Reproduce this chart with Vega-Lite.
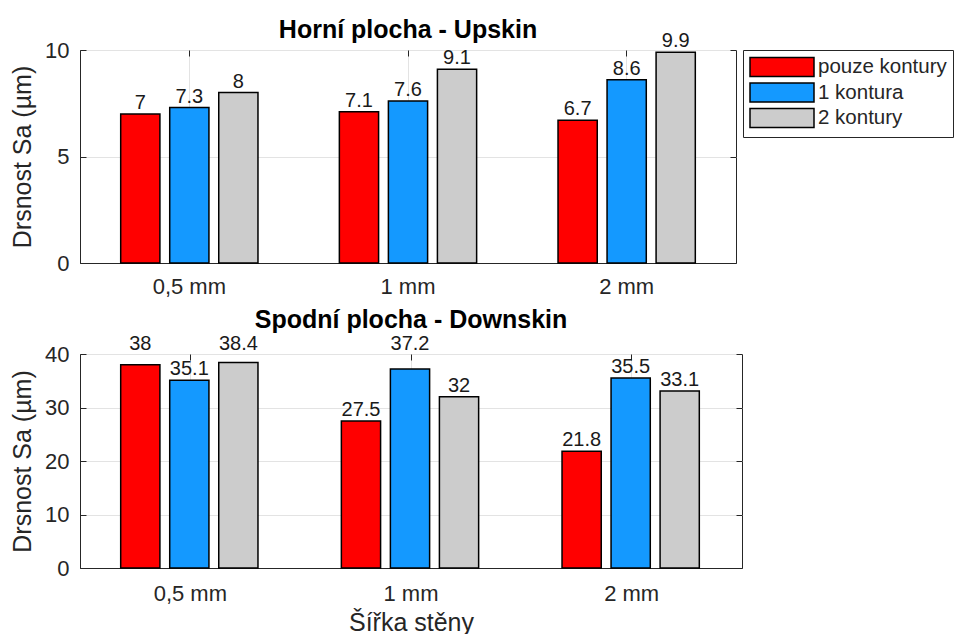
{
  "$schema": "https://vega.github.io/schema/vega-lite/v6.json",
  "background": "white",
  "padding": {"left": 10, "top": 17, "right": 0, "bottom": 0},
  "config": {
    "font": "Liberation Sans",
    "view": {"stroke": "#262626", "strokeWidth": 1},
    "axis": {
      "labelFont": "Liberation Sans", "labelFontSize": 22, "labelColor": "#262626",
      "titleFont": "Liberation Sans", "titleFontSize": 25, "titleFontWeight": "normal", "titleColor": "#262626",
      "gridColor": "#e3e3e3", "gridWidth": 1, "domainColor": "#262626", "tickColor": "#262626"
    },
    "title": {"font": "Liberation Sans", "fontSize": 25, "fontWeight": "bold", "color": "#000000"}
  },
  "datasets": {
    "up": [
      {"sirka": "0,5 mm", "serie": "pouze kontury", "sa": 7},
      {"sirka": "0,5 mm", "serie": "1 kontura", "sa": 7.3},
      {"sirka": "0,5 mm", "serie": "2 kontury", "sa": 8},
      {"sirka": "1 mm", "serie": "pouze kontury", "sa": 7.1},
      {"sirka": "1 mm", "serie": "1 kontura", "sa": 7.6},
      {"sirka": "1 mm", "serie": "2 kontury", "sa": 9.1},
      {"sirka": "2 mm", "serie": "pouze kontury", "sa": 6.7},
      {"sirka": "2 mm", "serie": "1 kontura", "sa": 8.6},
      {"sirka": "2 mm", "serie": "2 kontury", "sa": 9.9}
    ],
    "down": [
      {"sirka": "0,5 mm", "serie": "pouze kontury", "sa": 38},
      {"sirka": "0,5 mm", "serie": "1 kontura", "sa": 35.1},
      {"sirka": "0,5 mm", "serie": "2 kontury", "sa": 38.4},
      {"sirka": "1 mm", "serie": "pouze kontury", "sa": 27.5},
      {"sirka": "1 mm", "serie": "1 kontura", "sa": 37.2},
      {"sirka": "1 mm", "serie": "2 kontury", "sa": 32},
      {"sirka": "2 mm", "serie": "pouze kontury", "sa": 21.8},
      {"sirka": "2 mm", "serie": "1 kontura", "sa": 35.5},
      {"sirka": "2 mm", "serie": "2 kontury", "sa": 33.1}
    ]
  },
  "spacing": 9,
  "vconcat": [
    {
      "width": 656, "height": 213,
      "title": {"text": "Horní plocha - Upskin", "anchor": "middle", "frame": "group", "offset": -12},
      "data": {"name": "up"},
      "resolve": {"axis": {"x": "independent", "y": "independent"}},
      "layer": [
        {
          "mark": {"type": "bar", "stroke": "black", "strokeWidth": 1.5},
          "encoding": {
            "x": {"field": "sirka", "type": "nominal", "sort": ["0,5 mm", "1 mm", "2 mm"],
                  "scale": {"paddingInner": 0, "paddingOuter": 0},
                  "axis": {"title": null, "labelAngle": 0, "grid": true, "tickSize": -6, "labelPadding": 19}},
            "xOffset": {"field": "serie", "type": "nominal", "sort": ["pouze kontury", "1 kontura", "2 kontury"],
                        "scale": {"paddingInner": 0.2, "paddingOuter": 0.83}},
            "y": {"field": "sa", "type": "quantitative", "scale": {"domain": [0, 10], "nice": false},
                  "axis": {"title": "Drsnost Sa (µm)", "values": [0, 5, 10], "tickSize": -6, "labelPadding": 17, "titlePadding": 9}},
            "color": {"field": "serie", "type": "nominal",
                      "scale": {"domain": ["pouze kontury", "1 kontura", "2 kontury"], "range": ["#ff0000", "#1499ff", "#cccccc"]},
                      "legend": {"title": null, "orient": "right", "offset": 0,
                                 "symbolType": "M-1,-0.95H5.4V0.95H-1Z", "symbolSize": 400,
                                 "symbolStrokeColor": "black", "symbolStrokeWidth": 1.5, "symbolOpacity": 1,
                                 "labelFontSize": 20.5, "labelColor": "#262626", "labelOffset": 47,
                                 "strokeColor": "#262626", "fillColor": "white", "padding": 6, "rowPadding": -0.5}}
          }
        },
        {
          "mark": {"type": "text", "baseline": "alphabetic", "dy": -5, "fontSize": 20, "color": "#1a1a1a"},
          "encoding": {
            "x": {"field": "sirka", "type": "nominal", "sort": ["0,5 mm", "1 mm", "2 mm"],
                  "axis": {"orient": "top", "labels": false, "title": null, "grid": false, "domain": false, "tickSize": -6}},
            "xOffset": {"field": "serie", "type": "nominal", "sort": ["pouze kontury", "1 kontura", "2 kontury"]},
            "y": {"field": "sa", "type": "quantitative",
                  "axis": {"orient": "right", "labels": false, "title": null, "grid": false, "domain": false, "tickSize": -6, "values": [0, 5, 10]}},
            "text": {"field": "sa", "type": "quantitative"}
          }
        }
      ]
    },
    {
      "width": 662, "height": 214,
      "title": {"text": "Spodní plocha - Downskin", "anchor": "middle", "frame": "group", "offset": 1},
      "data": {"name": "down"},
      "resolve": {"axis": {"x": "independent", "y": "independent"}},
      "layer": [
        {
          "mark": {"type": "bar", "stroke": "black", "strokeWidth": 1.5},
          "encoding": {
            "x": {"field": "sirka", "type": "nominal", "sort": ["0,5 mm", "1 mm", "2 mm"],
                  "scale": {"paddingInner": 0, "paddingOuter": 0},
                  "axis": {"title": "Šířka stěny", "labelAngle": 0, "grid": true, "tickSize": -6, "labelPadding": 21, "titlePadding": 6}},
            "xOffset": {"field": "serie", "type": "nominal", "sort": ["pouze kontury", "1 kontura", "2 kontury"],
                        "scale": {"paddingInner": 0.2, "paddingOuter": 0.83}},
            "y": {"field": "sa", "type": "quantitative", "scale": {"domain": [0, 40], "nice": false},
                  "axis": {"title": "Drsnost Sa (µm)", "values": [0, 10, 20, 30, 40], "tickSize": -6, "labelPadding": 17, "titlePadding": 9}},
            "color": {"field": "serie", "type": "nominal",
                      "scale": {"domain": ["pouze kontury", "1 kontura", "2 kontury"], "range": ["#ff0000", "#1499ff", "#cccccc"]},
                      "legend": null}
          }
        },
        {
          "transform": [{"filter": "datum.sa < 37"}],
          "mark": {"type": "text", "baseline": "alphabetic", "dy": -5, "fontSize": 20, "color": "#1a1a1a"},
          "encoding": {
            "x": {"field": "sirka", "type": "nominal", "sort": ["0,5 mm", "1 mm", "2 mm"],
                  "axis": {"orient": "top", "labels": false, "title": null, "grid": false, "domain": false, "tickSize": -6}},
            "xOffset": {"field": "serie", "type": "nominal", "sort": ["pouze kontury", "1 kontura", "2 kontury"]},
            "y": {"field": "sa", "type": "quantitative",
                  "axis": {"orient": "right", "labels": false, "title": null, "grid": false, "domain": false, "tickSize": -6, "values": [0, 10, 20, 30, 40]}},
            "text": {"field": "sa", "type": "quantitative"}
          }
        },
        {
          "transform": [{"filter": "datum.sa >= 37"}],
          "mark": {"type": "text", "baseline": "alphabetic", "dy": -4, "fontSize": 20, "color": "#1a1a1a"},
          "encoding": {
            "x": {"field": "sirka", "type": "nominal", "sort": ["0,5 mm", "1 mm", "2 mm"], "axis": null},
            "xOffset": {"field": "serie", "type": "nominal", "sort": ["pouze kontury", "1 kontura", "2 kontury"]},
            "y": {"datum": 40, "type": "quantitative", "axis": null},
            "text": {"field": "sa", "type": "quantitative"}
          }
        }
      ]
    }
  ]
}
